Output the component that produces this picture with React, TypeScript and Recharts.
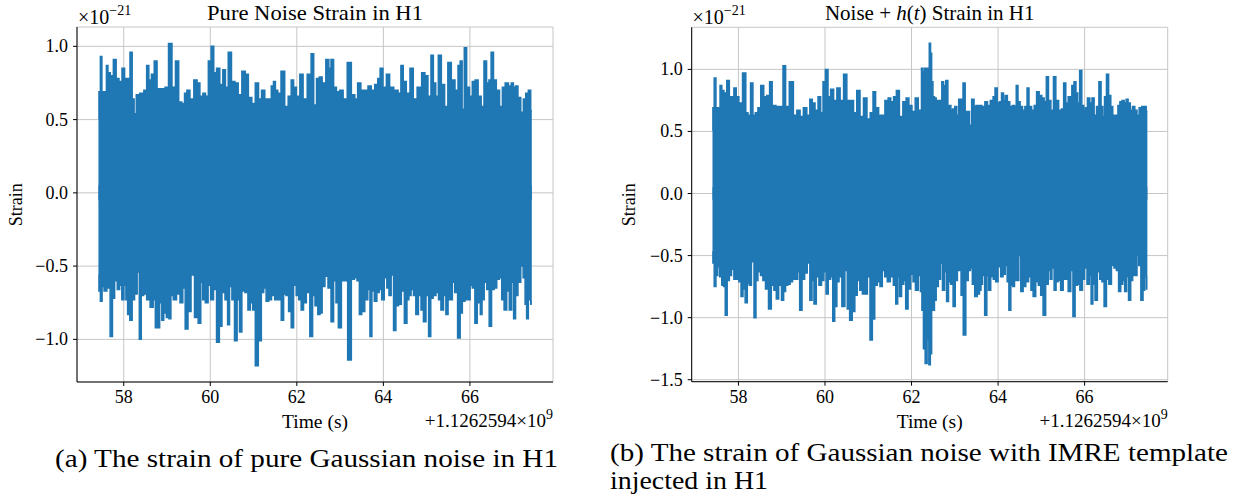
import React from 'react';
import { ComposedChart, Area, XAxis, YAxis, CartesianGrid } from 'recharts';

// envelope of the strain as [time - 1126259400 s, strain / 1e-21]
const pureUpper: [number, number][] = [
  [57.415, 0.51], [57.44, 0.69], [57.48, 0.93], [57.51, 0.69], [57.59, 0.69], [57.61, 0.87], [57.66, 0.82],
  [57.72, 0.8], [57.8, 0.91], [57.85, 0.78], [57.93, 0.76], [57.99, 0.85], [58.05, 0.78], [58.12, 0.78],
  [58.17, 0.96], [58.22, 0.64], [58.26, 0.54], [58.32, 0.67], [58.42, 0.68], [58.51, 0.7], [58.55, 0.87],
  [58.61, 0.77], [58.67, 0.81], [58.74, 0.9], [58.8, 0.71], [58.92, 0.71], [58.99, 0.72], [59.08, 1.02],
  [59.15, 0.72], [59.24, 0.9], [59.3, 0.62], [59.38, 0.61], [59.43, 0.68], [59.49, 0.7], [59.57, 0.64],
  [59.67, 0.77], [59.72, 0.75], [59.8, 0.66], [59.86, 0.68], [59.92, 0.66], [59.99, 0.9], [60.05, 1.0],
  [60.11, 0.82], [60.18, 0.85], [60.26, 0.74], [60.32, 0.84], [60.38, 0.72], [60.45, 0.96], [60.53, 0.76],
  [60.61, 0.75], [60.68, 0.67], [60.78, 0.83], [60.84, 0.81], [60.92, 0.65], [61.0, 0.61], [61.08, 0.75],
  [61.15, 0.64], [61.22, 0.7], [61.3, 0.64], [61.38, 0.64], [61.44, 0.73], [61.48, 0.76], [61.53, 0.7],
  [61.59, 0.68], [61.68, 0.83], [61.76, 0.59], [61.84, 0.66], [61.9, 0.77], [61.95, 0.72], [62.03, 0.66],
  [62.11, 0.81], [62.18, 0.64], [62.3, 0.81], [62.36, 0.95], [62.42, 0.6], [62.49, 0.78], [62.55, 0.79],
  [62.62, 0.75], [62.72, 0.91], [62.76, 0.85], [62.82, 0.91], [62.88, 0.72], [62.95, 0.69], [63.03, 0.7],
  [63.11, 0.64], [63.22, 0.89], [63.3, 0.67], [63.38, 0.64], [63.43, 0.75], [63.53, 0.7], [63.61, 0.7],
  [63.68, 0.73], [63.76, 0.7], [63.84, 0.74], [63.9, 0.78], [63.95, 0.85], [64.03, 0.72], [64.11, 0.81],
  [64.18, 0.72], [64.3, 0.7], [64.38, 0.68], [64.43, 0.87], [64.49, 0.76], [64.57, 0.68], [64.66, 0.85],
  [64.72, 0.64], [64.84, 0.72], [64.93, 0.82], [64.99, 0.8], [65.07, 0.66], [65.13, 0.94], [65.18, 0.75],
  [65.24, 0.66], [65.3, 0.94], [65.38, 0.74], [65.45, 0.59], [65.53, 0.89], [65.61, 0.77], [65.7, 0.7],
  [65.75, 0.87], [65.8, 0.9], [65.84, 0.57], [65.9, 0.99], [65.95, 0.72], [66.03, 0.66], [66.08, 0.76],
  [66.16, 0.77], [66.22, 0.66], [66.3, 0.59], [66.35, 0.9], [66.42, 0.75], [66.46, 0.77], [66.52, 0.96],
  [66.57, 0.77], [66.65, 0.7], [66.72, 0.59], [66.78, 0.72], [66.85, 0.75], [66.93, 0.73], [66.98, 0.75],
  [67.03, 0.72], [67.08, 0.73], [67.14, 0.65], [67.21, 0.55], [67.26, 0.64], [67.32, 0.68], [67.38, 0.7],
  [67.43, 0.56],
];

const pureLower: [number, number][] = [
  [57.415, -0.56], [57.44, -0.67], [57.48, -0.74], [57.52, -0.64], [57.57, -0.67], [57.65, -0.65], [57.72, -0.98],
  [57.76, -0.72], [57.82, -0.6], [57.88, -0.66], [57.93, -0.63], [57.98, -0.73], [58.03, -0.63], [58.07, -0.73],
  [58.11, -0.83], [58.17, -0.87], [58.22, -0.73], [58.28, -0.69], [58.34, -0.54], [58.38, -1.0], [58.43, -0.7],
  [58.49, -0.69], [58.57, -0.73], [58.65, -0.78], [58.71, -0.73], [58.75, -0.92], [58.8, -0.92], [58.86, -0.75],
  [58.9, -0.87], [58.95, -0.82], [59.02, -0.85], [59.07, -0.86], [59.11, -0.7], [59.18, -0.73], [59.26, -0.69],
  [59.34, -0.75], [59.39, -0.65], [59.45, -0.93], [59.52, -0.81], [59.59, -0.56], [59.68, -0.85], [59.76, -0.89],
  [59.8, -0.61], [59.85, -0.73], [59.92, -0.75], [59.98, -0.63], [60.04, -0.73], [60.11, -0.66], [60.18, -1.02],
  [60.24, -0.91], [60.3, -0.68], [60.38, -0.73], [60.42, -0.9], [60.47, -0.64], [60.53, -0.73], [60.59, -1.01],
  [60.65, -0.73], [60.7, -0.95], [60.76, -0.67], [60.84, -0.68], [60.9, -0.8], [60.95, -0.75], [61.01, -0.8],
  [61.07, -1.18], [61.15, -1.01], [61.21, -0.68], [61.26, -0.65], [61.32, -0.74], [61.38, -0.73], [61.45, -0.7],
  [61.53, -0.73], [61.61, -0.73], [61.67, -0.87], [61.72, -0.69], [61.78, -0.7], [61.84, -0.81], [61.9, -0.92],
  [61.95, -0.63], [62.02, -0.7], [62.07, -0.73], [62.13, -0.8], [62.18, -0.75], [62.26, -0.68], [62.34, -0.98],
  [62.39, -0.7], [62.45, -0.77], [62.52, -0.83], [62.55, -0.82], [62.62, -0.64], [62.68, -0.57], [62.76, -0.65],
  [62.82, -0.88], [62.88, -0.6], [62.93, -0.75], [62.99, -0.92], [63.07, -0.6], [63.13, -0.6], [63.22, -1.14],
  [63.3, -0.59], [63.36, -0.58], [63.42, -0.6], [63.47, -0.83], [63.53, -0.81], [63.61, -0.73], [63.67, -0.66],
  [63.71, -0.98], [63.76, -0.67], [63.82, -0.74], [63.88, -0.68], [63.93, -0.66], [63.99, -0.73], [64.05, -0.58],
  [64.11, -0.65], [64.15, -0.7], [64.21, -0.56], [64.26, -0.94], [64.32, -0.77], [64.38, -0.76], [64.45, -0.67],
  [64.52, -0.89], [64.57, -0.73], [64.61, -0.7], [64.67, -0.66], [64.72, -0.7], [64.78, -0.83], [64.84, -0.7],
  [64.9, -0.8], [64.95, -0.88], [65.02, -0.7], [65.07, -0.98], [65.12, -0.72], [65.18, -0.7], [65.25, -0.68],
  [65.3, -0.73], [65.36, -0.8], [65.42, -0.7], [65.47, -0.83], [65.52, -0.73], [65.57, -0.73], [65.62, -0.61],
  [65.68, -0.68], [65.75, -0.99], [65.8, -0.82], [65.85, -0.74], [65.92, -0.73], [65.98, -0.73], [66.03, -0.63],
  [66.08, -0.65], [66.15, -0.89], [66.19, -0.75], [66.22, -0.56], [66.26, -0.83], [66.3, -0.73], [66.36, -0.61],
  [66.42, -0.66], [66.47, -0.91], [66.53, -0.66], [66.59, -0.65], [66.65, -0.59], [66.71, -0.58], [66.76, -0.73],
  [66.82, -0.8], [66.88, -0.67], [66.94, -0.8], [66.99, -0.61], [67.03, -0.86], [67.08, -0.7], [67.14, -0.61],
  [67.21, -0.5], [67.25, -0.58], [67.3, -0.76], [67.32, -0.86], [67.38, -0.73], [67.43, -0.76],
];

const injUpper: [number, number][] = [
  [57.4, 0.51], [57.42, 0.69], [57.46, 0.93], [57.5, 0.69], [57.56, 0.69], [57.59, 0.87], [57.64, 0.83],
  [57.69, 0.81], [57.77, 0.91], [57.81, 0.78], [57.87, 0.78], [57.92, 0.85], [57.98, 0.78], [58.04, 0.73],
  [58.15, 0.97], [58.19, 0.65], [58.25, 0.63], [58.31, 0.89], [58.36, 0.63], [58.42, 0.65], [58.48, 0.69],
  [58.55, 0.87], [58.62, 0.78], [58.69, 0.79], [58.75, 0.9], [58.81, 0.71], [58.92, 0.7], [59.0, 0.7],
  [59.06, 1.03], [59.12, 0.7], [59.23, 0.9], [59.31, 0.63], [59.39, 0.67], [59.46, 0.62], [59.54, 0.69],
  [59.62, 0.63], [59.68, 0.76], [59.73, 0.73], [59.81, 0.67], [59.87, 0.78], [59.93, 0.65], [59.98, 0.9],
  [60.04, 1.0], [60.1, 0.78], [60.16, 0.84], [60.24, 0.75], [60.31, 0.85], [60.39, 0.75], [60.47, 0.96],
  [60.54, 0.75], [60.62, 0.75], [60.7, 0.65], [60.77, 0.83], [60.85, 0.62], [60.93, 0.77], [61.01, 0.6],
  [61.08, 0.65], [61.14, 0.82], [61.2, 0.69], [61.28, 0.63], [61.34, 0.63], [61.43, 0.75], [61.49, 0.77],
  [61.55, 0.74], [61.62, 0.78], [61.68, 0.83], [61.76, 0.62], [61.84, 0.74], [61.91, 0.77], [61.97, 0.71],
  [62.05, 0.66], [62.12, 0.77], [62.19, 0.67], [62.22, 0.56], [62.24, 1.01], [62.28, 0.98], [62.32, 1.01],
  [62.35, 0.95], [62.39, 1.01], [62.43, 1.21], [62.45, 1.13], [62.48, 0.9], [62.51, 0.78], [62.55, 0.77],
  [62.59, 0.75], [62.65, 0.75], [62.68, 0.59], [62.72, 0.9], [62.76, 0.87], [62.82, 0.91], [62.86, 0.7],
  [62.89, 0.71], [62.93, 0.67], [62.97, 0.68], [63.03, 0.7], [63.06, 0.63], [63.12, 0.76], [63.16, 0.76],
  [63.22, 0.89], [63.26, 0.66], [63.32, 0.66], [63.36, 0.55], [63.42, 0.76], [63.47, 0.7], [63.51, 0.71],
  [63.59, 0.71], [63.66, 0.7], [63.73, 0.74], [63.78, 0.71], [63.86, 0.75], [63.91, 0.78], [63.95, 0.85],
  [64.01, 0.73], [64.05, 0.74], [64.11, 0.81], [64.14, 0.75], [64.19, 0.79], [64.24, 0.74], [64.3, 0.7],
  [64.36, 0.71], [64.4, 0.7], [64.44, 0.87], [64.48, 0.74], [64.54, 0.7], [64.59, 0.67], [64.65, 0.7],
  [64.69, 0.85], [64.74, 0.7], [64.81, 0.67], [64.86, 0.71], [64.92, 0.82], [64.98, 0.79], [65.04, 0.77],
  [65.09, 0.74], [65.14, 0.94], [65.19, 0.75], [65.25, 0.67], [65.31, 0.94], [65.36, 0.75], [65.44, 0.67],
  [65.49, 0.68], [65.54, 0.89], [65.59, 0.73], [65.65, 0.78], [65.68, 0.78], [65.73, 0.87], [65.78, 0.9],
  [65.82, 0.81], [65.86, 0.73], [65.91, 0.99], [65.96, 0.71], [66.0, 0.67], [66.04, 0.69], [66.09, 0.77],
  [66.15, 0.73], [66.19, 0.77], [66.25, 0.63], [66.3, 0.7], [66.36, 0.9], [66.4, 0.7], [66.44, 0.62],
  [66.48, 0.78], [66.53, 0.96], [66.58, 0.79], [66.63, 0.7], [66.67, 0.63], [66.75, 0.63], [66.79, 0.71],
  [66.84, 0.74], [66.89, 0.75], [66.94, 0.73], [66.98, 0.76], [67.03, 0.73], [67.08, 0.67], [67.13, 0.7],
  [67.19, 0.67], [67.23, 0.63], [67.29, 0.69], [67.35, 0.7], [67.4, 0.7], [67.45, 0.66],
];

const injLower: [number, number][] = [
  [57.4, -0.47], [57.42, -0.56], [57.46, -0.75], [57.5, -0.66], [57.54, -0.59], [57.59, -0.67], [57.64, -0.74],
  [57.68, -0.75], [57.71, -0.98], [57.77, -0.7], [57.81, -0.66], [57.87, -0.61], [57.92, -0.69], [57.98, -0.69],
  [58.04, -0.71], [58.08, -0.83], [58.13, -0.77], [58.18, -0.88], [58.23, -0.72], [58.27, -0.74], [58.33, -0.55],
  [58.39, -1.0], [58.42, -0.7], [58.48, -0.63], [58.54, -0.66], [58.59, -0.7], [58.66, -0.77], [58.73, -0.93],
  [58.79, -0.74], [58.85, -0.78], [58.9, -0.85], [58.96, -0.74], [59.03, -0.86], [59.06, -0.79], [59.12, -0.74],
  [59.16, -0.73], [59.23, -0.71], [59.27, -0.69], [59.35, -0.69], [59.39, -0.63], [59.44, -0.94], [59.5, -0.69],
  [59.56, -0.64], [59.62, -0.56], [59.68, -0.86], [59.72, -0.7], [59.77, -0.89], [59.83, -0.67], [59.89, -0.74],
  [59.95, -0.7], [60.0, -0.63], [60.05, -0.81], [60.1, -0.69], [60.16, -0.67], [60.2, -1.03], [60.25, -0.91],
  [60.3, -0.71], [60.35, -0.67], [60.43, -0.91], [60.49, -0.62], [60.54, -0.93], [60.6, -1.02], [60.66, -0.95],
  [60.72, -0.82], [60.77, -0.7], [60.84, -0.78], [60.89, -0.81], [60.95, -0.81], [61.01, -0.67], [61.07, -1.18],
  [61.12, -1.01], [61.18, -0.74], [61.24, -0.71], [61.3, -0.75], [61.35, -0.62], [61.41, -0.67], [61.47, -0.71],
  [61.55, -0.67], [61.61, -0.74], [61.66, -0.89], [61.7, -0.67], [61.74, -0.83], [61.8, -0.73], [61.84, -0.7],
  [61.89, -0.93], [61.95, -0.77], [62.01, -0.65], [62.06, -0.71], [62.12, -0.78], [62.19, -0.66], [62.22, -0.79],
  [62.26, -0.94], [62.29, -1.25], [62.34, -1.37], [62.38, -1.17], [62.42, -1.38], [62.45, -1.29], [62.48, -0.78],
  [62.51, -0.94], [62.55, -0.86], [62.59, -0.75], [62.65, -0.69], [62.69, -0.56], [62.74, -0.78], [62.79, -0.63],
  [62.83, -0.87], [62.88, -0.71], [62.93, -0.73], [62.99, -0.91], [63.03, -0.7], [63.09, -0.62], [63.13, -0.6],
  [63.16, -0.82], [63.23, -1.14], [63.28, -0.7], [63.34, -0.62], [63.38, -0.6], [63.43, -0.73], [63.49, -0.83],
  [63.55, -0.81], [63.59, -0.78], [63.62, -0.73], [63.66, -0.66], [63.72, -0.98], [63.76, -0.66], [63.8, -0.78],
  [63.86, -0.67], [63.92, -0.69], [63.97, -0.71], [64.03, -0.59], [64.09, -0.67], [64.14, -0.65], [64.19, -0.58],
  [64.23, -0.71], [64.27, -0.94], [64.32, -0.74], [64.36, -0.75], [64.4, -0.7], [64.46, -0.7], [64.5, -0.5],
  [64.55, -0.79], [64.61, -0.75], [64.67, -0.71], [64.74, -0.67], [64.78, -0.78], [64.84, -0.83], [64.9, -0.71],
  [64.96, -0.74], [65.01, -0.82], [65.07, -0.98], [65.13, -0.73], [65.19, -0.62], [65.22, -0.69], [65.27, -0.6],
  [65.32, -0.78], [65.36, -0.71], [65.41, -0.7], [65.48, -0.78], [65.53, -0.69], [65.59, -0.69], [65.65, -0.79],
  [65.71, -0.62], [65.75, -0.99], [65.81, -0.74], [65.86, -0.73], [65.92, -0.78], [65.98, -0.69], [66.02, -0.6],
  [66.09, -0.73], [66.13, -0.66], [66.17, -0.89], [66.21, -0.73], [66.27, -0.86], [66.32, -0.63], [66.38, -0.69],
  [66.42, -0.71], [66.48, -0.91], [66.53, -0.69], [66.59, -0.73], [66.65, -0.58], [66.71, -0.6], [66.76, -0.62],
  [66.81, -0.79], [66.86, -0.73], [66.9, -0.7], [66.95, -0.79], [66.99, -0.67], [67.04, -0.86], [67.09, -0.7],
  [67.13, -0.66], [67.19, -0.66], [67.23, -0.5], [67.27, -0.58], [67.33, -0.86], [67.37, -0.78], [67.41, -0.67],
  [67.45, -0.77],
];

const timeTicks = [58, 60, 62, 64, 66];
const pureTicks = [-1.0, -0.5, 0.0, 0.5, 1.0];
const injTicks = [-1.5, -1.0, -0.5, 0.0, 0.5, 1.0];

const BLUE = '#1f77b4';
const SERIF = 'Liberation Serif, DejaVu Serif, serif';

const toRows = (pts: [number, number][]) => pts.map(([t, v]) => ({ t, v }));
const fmt = (v: number) => (v < 0 ? '\u2212' : '') + Math.abs(v).toFixed(1);

const XTick = (props: any) => {
  const { x, y, payload } = props;
  return (
    <text x={x} y={y + 17} textAnchor="middle" fontSize={18} fontFamily={SERIF} fill="#000">
      {payload.value}
    </text>
  );
};

const YTick = (props: any) => {
  const { x, y, payload } = props;
  return (
    <text x={x} y={y + 6} textAnchor="end" fontSize={18} fontFamily={SERIF} fill="#000">
      {fmt(payload.value)}
    </text>
  );
};

interface PanelProps {
  upper: [number, number][];
  lower: [number, number][];
  yTicks: number[];
  yDomain: [number, number];
  margin: { top: number; right: number; bottom: number; left: number };
}

const Panel = ({ upper, lower, yTicks, yDomain, margin }: PanelProps) => {
  return (
    <ComposedChart width={600} height={440} margin={margin} style={{ fontFamily: SERIF }}>
      <CartesianGrid stroke="#c6c6c6" strokeWidth={1} xAxisId="x" yAxisId="y" />
      <XAxis
        xAxisId="x"
        type="number"
        dataKey="t"
        domain={[56.92, 67.92]}
        ticks={timeTicks}
        allowDataOverflow
        height={30}
        tick={<XTick />}
        tickSize={4}
        tickMargin={0}
        tickLine={{ stroke: '#000' }}
        axisLine={{ stroke: '#000' }}
      />
      <XAxis xAxisId="top" orientation="top" type="number" domain={[56.92, 67.92]} height={0} tick={false} tickLine={false} axisLine={{ stroke: '#000' }} />
      <YAxis
        yAxisId="y"
        type="number"
        domain={yDomain}
        ticks={yTicks}
        allowDataOverflow
        width={60}
        tick={<YTick />}
        tickSize={4}
        tickMargin={5}
        tickLine={{ stroke: '#000' }}
        axisLine={{ stroke: '#000' }}
      />
      <YAxis yAxisId="right" orientation="right" type="number" domain={yDomain} width={0} tick={false} tickLine={false} axisLine={{ stroke: '#000' }} />
      <Area
        xAxisId="x"
        yAxisId="y"
        data={toRows(upper)}
        dataKey="v"
        type="step"
        baseValue={-0.05}
        stroke={BLUE}
        strokeWidth={1.5}
        fill={BLUE}
        fillOpacity={1}
        dot={false}
        activeDot={false}
        isAnimationActive={false}
      />
      <Area
        xAxisId="x"
        yAxisId="y"
        data={toRows(lower)}
        dataKey="v"
        type="step"
        baseValue={0.05}
        stroke={BLUE}
        strokeWidth={1.5}
        fill={BLUE}
        fillOpacity={1}
        dot={false}
        activeDot={false}
        isAnimationActive={false}
      />
    </ComposedChart>
  );
};

const App = () => {
  return (
    <div style={{ position: 'absolute', left: 0, top: 0, width: 1240, height: 504, background: '#fff', fontFamily: SERIF }}>
      <div style={{ position: 'absolute', left: 0, top: 0 }}>
        <Panel upper={pureUpper} lower={pureLower} yTicks={pureTicks} yDomain={[-1.291, 1.132]} margin={{ top: 27, right: 47, bottom: 28, left: 17 }} />
      </div>
      <div style={{ position: 'absolute', left: 600, top: 0 }}>
        <Panel upper={injUpper} lower={injLower} yTicks={injTicks} yDomain={[-1.516, 1.339]} margin={{ top: 27.3, right: 32.3, bottom: 28.3, left: 31.7 }} />
      </div>
      <svg width={1240} height={504} style={{ position: 'absolute', left: 0, top: 0, pointerEvents: 'none', fontFamily: SERIF }} fill="#000">
        {/* left panel texts */}
        <text x={315} y={20} fontSize={21} textAnchor="middle" textLength={216} lengthAdjust="spacingAndGlyphs">Pure Noise Strain in H1</text>
        <text x={78} y={23.5}>
          <tspan fontSize={20}>×10</tspan>
          <tspan fontSize={14} dy={-9}>−21</tspan>
        </text>
        <text x={0} y={0} fontSize={18} textAnchor="middle" transform="translate(21.5,204.7) rotate(-90)">Strain</text>
        <text x={315} y={428} fontSize={18} textAnchor="middle" textLength={66} lengthAdjust="spacingAndGlyphs">Time (s)</text>
        <text x={553} y={427} textAnchor="end">
          <tspan fontSize={19}>+1.1262594×10</tspan>
          <tspan fontSize={14} dy={-8}>9</tspan>
        </text>
        {/* right panel texts */}
        <text x={929.7} y={20} fontSize={21} textAnchor="middle">
          Noise + <tspan fontStyle="italic">h</tspan>(<tspan fontStyle="italic">t</tspan>) Strain in H1
        </text>
        <text x={692.5} y={23.5}>
          <tspan fontSize={20}>×10</tspan>
          <tspan fontSize={14} dy={-9}>−21</tspan>
        </text>
        <text x={0} y={0} fontSize={18} textAnchor="middle" transform="translate(635,204.7) rotate(-90)">Strain</text>
        <text x={929.7} y={428} fontSize={18} textAnchor="middle" textLength={66} lengthAdjust="spacingAndGlyphs">Time (s)</text>
        <text x={1167.7} y={427} textAnchor="end">
          <tspan fontSize={19}>+1.1262594×10</tspan>
          <tspan fontSize={14} dy={-8}>9</tspan>
        </text>
        {/* captions */}
        <text x={55} y={467} fontSize={25} textLength={503} lengthAdjust="spacingAndGlyphs">(a) The strain of pure Gaussian noise in H1</text>
        <text x={610} y={461} fontSize={25} textLength={618} lengthAdjust="spacingAndGlyphs">(b) The strain of Gaussian noise with IMRE template</text>
        <text x={610} y={489} fontSize={25} textLength={158} lengthAdjust="spacingAndGlyphs">injected in H1</text>
      </svg>
    </div>
  );
};

export default App;
